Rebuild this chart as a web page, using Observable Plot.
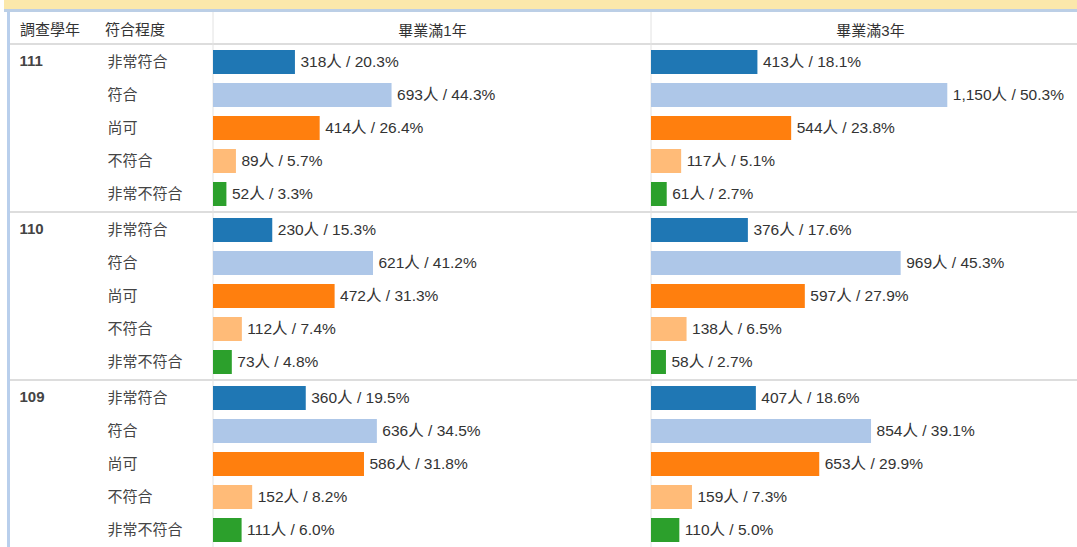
<!DOCTYPE html>
<html><head><meta charset="utf-8">
<script src="https://cdn.jsdelivr.net/npm/d3@7"></script>
<script src="https://cdn.jsdelivr.net/npm/@observablehq/plot@0.6"></script>
<style>
body{margin:0;background:#fff;overflow:hidden;font-family:"Liberation Sans","Noto Sans CJK TC",sans-serif;}
#wrap{position:relative;width:1077px;height:547px;overflow:hidden;background:#fff;}
#title{position:absolute;left:4px;top:0;width:1073px;height:9px;background:#fbe8ab;border-bottom:3px solid #bccfe6;}
#lborder{position:absolute;left:7px;top:12px;width:3px;height:540px;background:#b9cfec;}
#chart{position:absolute;left:0;top:12px;width:1090px;}
#chart svg{max-width:none !important;width:1090px !important;height:536px !important;}
.hd{position:absolute;top:21px;font-size:15px;line-height:18px;color:#333;}
</style></head>
<body><div id="wrap"><div id="title"></div><div id="chart"></div><div id="lborder"></div>
<span class="hd" style="left:20px">調查學年</span><span class="hd" style="left:105px">符合程度</span></div>
<script>
const years = ["111", "110", "109"];
const periods = ["畢業滿1年", "畢業滿3年"];
const categories = ["非常符合", "符合", "尚可", "不符合", "非常不符合"];
const colors = ["#1f77b4", "#aec7e8", "#ff7f0e", "#ffbb78", "#2ca02c"];

const y111_1yr_count = [318, 693, 414, 89, 52];
const y111_1yr_pct   = [20.3, 44.3, 26.4, 5.7, 3.3];
const y111_3yr_count = [413, 1150, 544, 117, 61];
const y111_3yr_pct   = [18.1, 50.3, 23.8, 5.1, 2.7];
const y110_1yr_count = [230, 621, 472, 112, 73];
const y110_1yr_pct   = [15.3, 41.2, 31.3, 7.4, 4.8];
const y110_3yr_count = [376, 969, 597, 138, 58];
const y110_3yr_pct   = [17.6, 45.3, 27.9, 6.5, 2.7];
const y109_1yr_count = [360, 636, 586, 152, 111];
const y109_1yr_pct   = [19.5, 34.5, 31.8, 8.2, 6.0];
const y109_3yr_count = [407, 854, 653, 159, 110];
const y109_3yr_pct   = [18.6, 39.1, 29.9, 7.3, 5.0];

const series = [
  ["111", "畢業滿1年", y111_1yr_count, y111_1yr_pct],
  ["111", "畢業滿3年", y111_3yr_count, y111_3yr_pct],
  ["110", "畢業滿1年", y110_1yr_count, y110_1yr_pct],
  ["110", "畢業滿3年", y110_3yr_count, y110_3yr_pct],
  ["109", "畢業滿1年", y109_1yr_count, y109_1yr_pct],
  ["109", "畢業滿3年", y109_3yr_count, y109_3yr_pct]
];
const rows = [];
for (const [year, period, counts, pcts] of series) {
  categories.forEach((cat, i) => rows.push({year, period, cat, count: counts[i], pct: pcts[i]}));
}
const fmt = d3.format(",");
const font = '"Liberation Sans","Noto Sans CJK TC",sans-serif';

const W = 1090, H = 536;
const plot = Plot.plot({
  width: W, height: H,
  marginTop: 32, marginLeft: 213, marginRight: 1, marginBottom: 0,
  style: {fontFamily: font, fontSize: "15px", color: "#333", background: "transparent"},
  x: {domain: [0, 1700], axis: null},
  y: {domain: categories, paddingInner: 0.28, paddingOuter: 0.14, label: null},
  fx: {domain: periods, padding: 0, label: null},
  fy: {domain: years, padding: 0, label: null},
  color: {domain: categories, range: colors},
  marks: [
    Plot.axisFx({anchor: "top", tickSize: 0, label: null, fontSize: 15, dy: 0}),
    Plot.axisFy({anchor: "left", tickSize: 0, label: null, textAnchor: "start", dx: -185, dy: -67, fontWeight: "bold", fill: "#444"}),
    Plot.axisY({anchor: "left", tickSize: 0, label: null, textAnchor: "start", dx: -97, fill: "#444"}),
    Plot.barX(rows, {x: "count", y: "cat", fx: "period", fy: "year", fill: "cat"}),
    Plot.text(rows, {x: "count", y: "cat", fx: "period", fy: "year",
      text: d => `${fmt(d.count)}人 / ${d.pct.toFixed(1)}%`, textAnchor: "start", dx: 5, fill: "#333", fontSize: 15.5})
  ]
});
document.getElementById("chart").appendChild(plot);

// table grid lines from the facet scales
const fyS = plot.scale("fy"), fxS = plot.scale("fx");
const svg = d3.select(plot);
const g = svg.insert("g", ":first-child");
for (const yr of years) {
  const yy = fyS.apply(yr);
  g.append("line").attr("x1", 10).attr("x2", W).attr("y1", yy).attr("y2", yy)
    .attr("stroke", "#dddddd").attr("stroke-width", 2);
}
for (const p of periods) {
  const xx = fxS.apply(p);
  g.append("line").attr("x1", xx).attr("x2", xx).attr("y1", 0).attr("y2", H)
    .attr("stroke", "#e2e2e2").attr("stroke-width", 1);
}
</script></body></html>
